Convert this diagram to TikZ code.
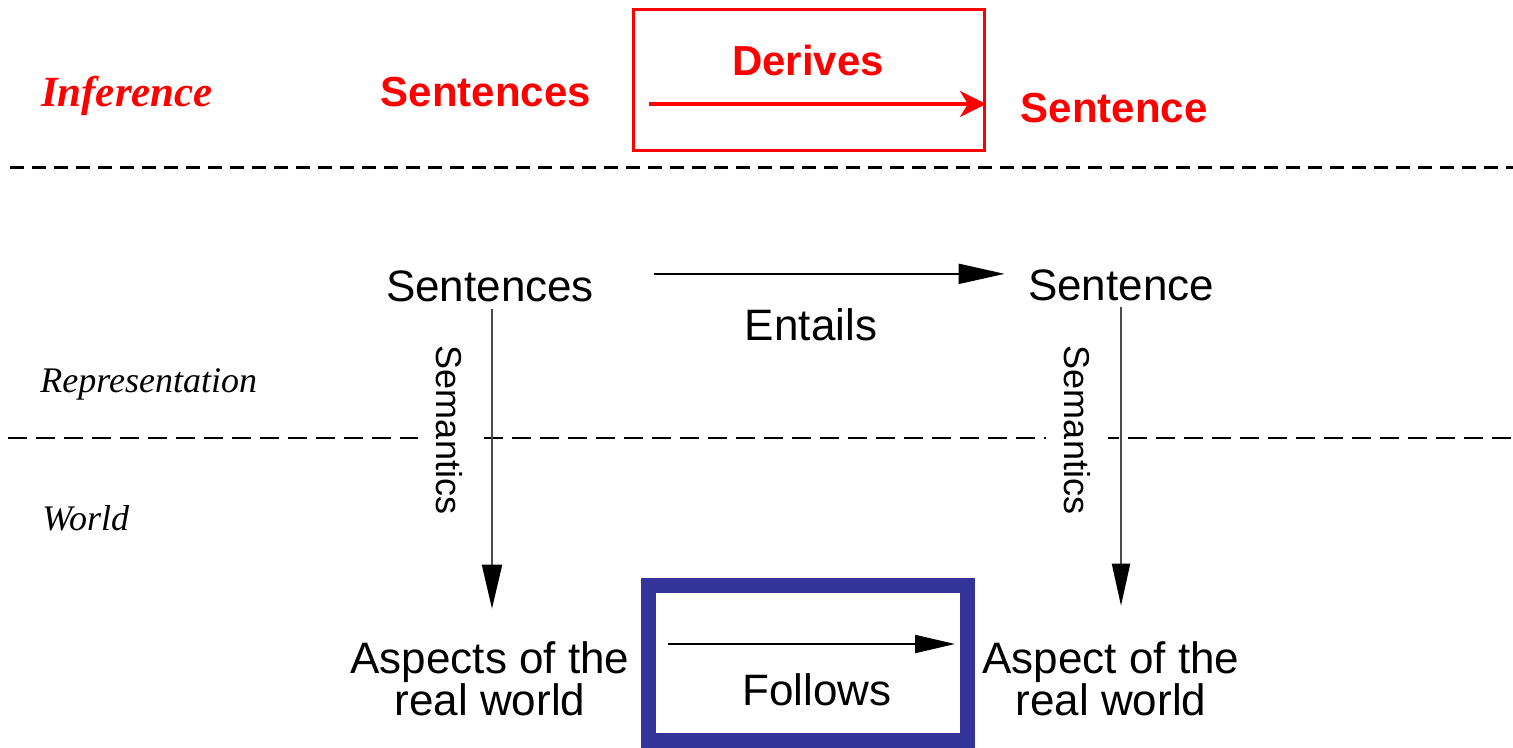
\documentclass[tikz,border=0pt]{standalone}
\usepackage{fontspec}
\setmainfont{Liberation Serif}
\setsansfont{Liberation Sans}
\usetikzlibrary{arrows.meta,positioning}
\definecolor{boxblue}{RGB}{51,51,153}

\begin{document}
\begin{tikzpicture}[x=0.5pt,y=-0.5pt]
\tikzset{rd/.style={text=red,font=\sffamily\bfseries\fontsize{21pt}{21pt}\selectfont}}
\tikzset{infer/.style={text=red,font=\rmfamily\bfseries\itshape\fontsize{21.5pt}{21.5pt}\selectfont}}
\tikzset{bk/.style={font=\sffamily\fontsize{22pt}{21pt}\selectfont}}
\tikzset{lvl/.style={anchor=base west,font=\rmfamily\itshape\fontsize{18pt}{18pt}\selectfont}}
\tikzset{sem/.style={anchor=center,rotate=-90,fill=white,inner ysep=9pt,font=\sffamily\fontsize{18pt}{18pt}\selectfont}}
\useasboundingbox (0,0) rectangle (1513,748);

% level separators
\draw[line width=1.5pt,dash pattern=on 7pt off 4pt] (10,168) -- (1513,168);
\draw[line width=1pt,dash pattern=on 9.5pt off 4.5pt] (8,438) -- (1513,438);

\node [draw=red,line width=1.5pt,minimum width=175.5pt,minimum height=70.5pt] (rbox) at (809,80) {};
\node [draw=boxblue,line width=7.5pt,minimum width=159.5pt,minimum height=77.5pt] (fbox) at (808,663) {};

\begin{scope}[every node/.style={anchor=base,inner sep=3pt}]
\node [infer] (inf) at (127,107) {Inference};
\node [rd] (rsen) at (486,107) {Sentences};
\node [rd] (der) at (808,76) {Derives};
\node [rd] (rsnt) at (1114,123) {Sentence};
\node [bk] (sen) at (490,302) {Sentences};
\node [bk] (snt) at (1121,300) {Sentence};
\node [bk] (ent) at (811,341) {Entails};
\node [lvl] (rep) at (34,392) {Representation};
\node [lvl] (wld) at (36,530) {World};
\node [sem] (sem1) at (449,430) {Semantics};
\node [sem] (sem2) at (1077,430) {Semantics};
\node [bk,align=center] (asp) at (490,715) {Aspects of the\\real world};
\node [bk,align=center] (asp2) at (1111,715) {Aspect of the\\real world};
\node [bk] (fol) at (817,705) {Follows};
\end{scope}

\coordinate (d1) at (649,104);
\coordinate (f1) at (668,644);

\begin{scope}[every edge/.style={draw=black,line width=1pt}]
\path ([yshift=6.5pt]sen.east) edge[-{Triangle[length=23pt,width=10pt]},shorten <=27pt,shorten >=8.5pt] ([yshift=5.5pt]snt.west);
\path ([xshift=1pt]sen.south) edge[draw=black!70,-{Triangle[length=22pt,width=10pt,black]},shorten >=13pt] ([xshift=1pt]sen.south |- asp.north);
\path (snt.south) edge[draw=black!70,-{Triangle[length=21pt,width=9pt,black]},shorten >=14.5pt] (snt.south |- asp2.north);
\path (f1) edge[-{Triangle[length=20pt,width=9pt]},shorten >=10pt] (f1 -| fbox.east);
\path (d1) edge[draw=red,line width=2pt,-{Stealth[length=13pt,width=13pt,inset=4pt]}] (d1 -| rbox.east);
\end{scope}

\end{tikzpicture}
\end{document}
